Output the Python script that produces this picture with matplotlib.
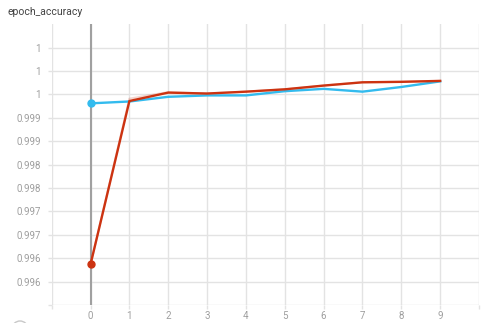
import matplotlib
matplotlib.use("Agg")
import matplotlib.pyplot as plt
from matplotlib.patches import Circle

plt.rcParams['font.family'] = ['Roboto', 'DejaVu Sans']

# epochs and the two (smoothed) runs
epochs = [0, 1, 2, 3, 4, 5, 6, 7, 8, 9]
run_blue = [0.99931, 0.99935, 0.99945, 0.99948, 0.99948, 0.99957, 0.99962, 0.99956, 0.99966, 0.99978]
run_red = [0.99587, 0.99936, 0.99954, 0.99952, 0.99956, 0.99961, 0.99969, 0.99976, 0.99977, 0.99979]
run_red_raw = [0.99587, 0.99941, 0.99955, 0.99952, 0.99956, 0.99961, 0.99969, 0.99976, 0.99977, 0.99979]

y_ticks = [0.995, 0.9955, 0.996, 0.9965, 0.997, 0.9975, 0.998, 0.9985, 0.999, 0.9995, 1.0, 1.0005]
y_labels = ['', '0.996', '0.996', '0.997', '0.997', '0.998', '0.998', '0.999', '0.999', '1', '1', '1']
x_ticks = [-1, 0, 1, 2, 3, 4, 5, 6, 7, 8, 9, 10]
x_labels = ['', '0', '1', '2', '3', '4', '5', '6', '7', '8', '9', '']

fig = plt.figure(figsize=(4.86, 3.23), dpi=100)
ax = fig.add_axes([0.1064, 0.0557, 0.8792, 0.8691])

ax.set_xlim(-1, 10)
ax.set_ylim(0.995, 1.001)
ax.set_xticks(x_ticks)
ax.set_xticklabels(x_labels)
ax.set_yticks(y_ticks)
ax.set_yticklabels(y_labels)
ax.grid(True, color='#e3e3e3', linewidth=1.0)
ax.set_axisbelow(True)
for s in ax.spines.values():
    s.set_visible(False)
ax.tick_params(axis='both', length=3, width=1.0, color='#e3e3e3',
               labelcolor='#9e9e9e', labelsize=7)
ax.tick_params(axis='y', pad=5)
ax.tick_params(axis='x', pad=1.5)

# darker zero line
ax.axvline(0, color='#a0a0a0', linewidth=1.5, zorder=1)

ax.plot(epochs, run_red_raw, color='#cc3311', alpha=0.2, linewidth=1.5, zorder=2)
ax.plot(epochs, run_blue, color='#33bbee', linewidth=1.7, zorder=3)
ax.plot(epochs, run_red, color='#cc3311', linewidth=1.7, zorder=4)
ax.plot(epochs[0], run_blue[0], 'o', color='#33bbee', markersize=5, zorder=5)
ax.plot(epochs[0], run_red[0], 'o', color='#cc3311', markersize=5, zorder=5)

fig.text(7 / 486, 1 - 12 / 323, 'epoch_accuracy', fontsize=7.5, color='#424242',
         ha='left', va='center')

# partial icon circle in the corner
icon = Circle((20, -6), 8, transform=None, fill=False, edgecolor='#c8c8c8', linewidth=1)
fig.patches.append(icon)

fig.savefig('out.png', dpi=100)
